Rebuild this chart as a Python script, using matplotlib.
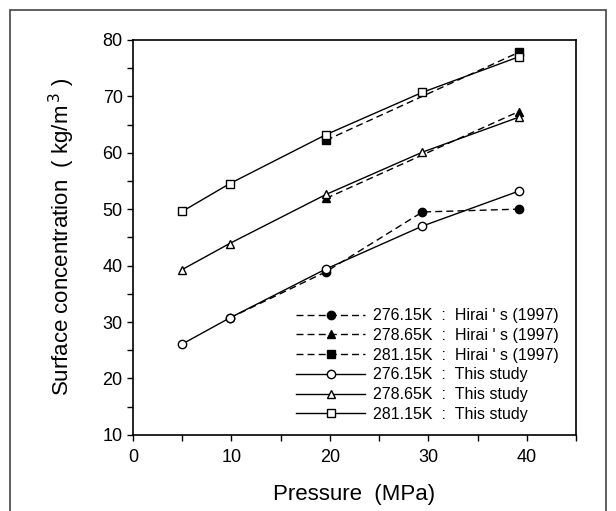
import matplotlib
matplotlib.use("Agg")
import matplotlib.pyplot as plt
from matplotlib.patches import Rectangle
from matplotlib.ticker import MultipleLocator

plt.rcParams['font.family'] = ['Liberation Sans', 'DejaVu Sans']

# Hirai's (1997) data
hirai_p_276 = [9.8, 19.6, 29.4, 39.2]
hirai_c_276 = [30.7, 38.9, 49.5, 50.0]
hirai_p_278 = [19.6, 39.2]
hirai_c_278 = [51.9, 67.3]
hirai_p_281 = [19.6, 39.2]
hirai_c_281 = [62.2, 77.8]

# This study
study_p = [5.0, 9.8, 19.6, 29.4, 39.2]
study_c_276 = [26.1, 30.7, 39.4, 47.0, 53.2]
study_c_278 = [39.3, 43.9, 52.6, 60.1, 66.3]
study_c_281 = [49.6, 54.5, 63.2, 70.7, 77.0]

labels = ["276.15K  :  Hirai ' s (1997)",
          "278.65K  :  Hirai ' s (1997)",
          "281.15K  :  Hirai ' s (1997)",
          "276.15K  :  This study",
          "278.65K  :  This study",
          "281.15K  :  This study"]

fig = plt.figure(figsize=(6.16, 5.11), dpi=100)
ax = fig.add_axes([0.216, 0.149, 0.719, 0.773])

dash = (0, (5, 3))
ms = 6
ax.plot(hirai_p_276, hirai_c_276, color='black', lw=1, linestyle=dash, marker='o',
        markersize=ms, markerfacecolor='black', label=labels[0])
ax.plot(hirai_p_278, hirai_c_278, color='black', lw=1, linestyle=dash, marker='^',
        markersize=ms, markerfacecolor='black', label=labels[1])
ax.plot(hirai_p_281, hirai_c_281, color='black', lw=1, linestyle=dash, marker='s',
        markersize=ms, markerfacecolor='black', label=labels[2])
ax.plot(study_p, study_c_276, color='black', lw=1, marker='o', markersize=ms,
        markerfacecolor='white', label=labels[3])
ax.plot(study_p, study_c_278, color='black', lw=1, marker='^', markersize=ms,
        markerfacecolor='white', label=labels[4])
ax.plot(study_p, study_c_281, color='black', lw=1, marker='s', markersize=ms,
        markerfacecolor='white', label=labels[5])

ax.set_xlim(0, 45)
ax.set_ylim(10, 80)
ax.xaxis.set_major_locator(MultipleLocator(10))
ax.xaxis.set_minor_locator(MultipleLocator(5))
ax.yaxis.set_major_locator(MultipleLocator(10))
ax.yaxis.set_minor_locator(MultipleLocator(5))
ax.tick_params(which='both', direction='out', length=4, width=1, labelsize=13, colors='black')
ax.tick_params(axis='x', pad=6)
for s in ax.spines.values():
    s.set_linewidth(1.2)

ax.set_xlabel('Pressure  (MPa)', fontsize=16, labelpad=13)
ax.set_ylabel('Surface concentration  ( kg/m$^{\\,3}$ )', fontsize=16, labelpad=18)

ax.legend(loc='lower right', frameon=False, fontsize=11.5, handlelength=4.3,
          handletextpad=0.5, labelspacing=0.3, borderaxespad=0.4,
          bbox_to_anchor=(0.99, 0.0))

fig.patches.append(Rectangle((10/616, -0.01), 596/616, 1 - 10/511 + 0.01,
                             transform=fig.transFigure, fill=False,
                             edgecolor='#444444', lw=1.2))

fig.savefig('out.png', dpi=100)
